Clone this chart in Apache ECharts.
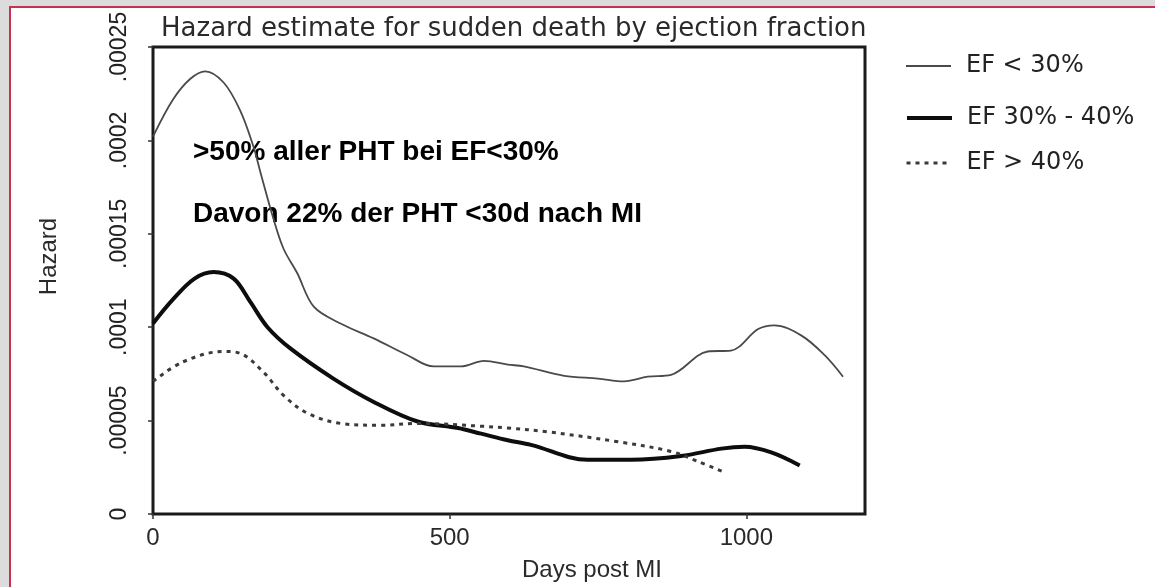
<!DOCTYPE html>
<html>
<head>
<meta charset="utf-8">
<script src="https://cdn.jsdelivr.net/npm/echarts@6/dist/echarts.min.js"></script>
<style>
  html, body { margin: 0; padding: 0; width: 1155px; height: 587px; overflow: hidden; background: #dcdcdc; }
  #frame { position: absolute; left: 9px; top: 6px; width: 1160px; height: 600px; border-left: 2px solid #c4344f; border-top: 2px solid #c4344f; background: #ffffff; }
  #chart { position: absolute; left: 0; top: 0; width: 1155px; height: 587px; }
</style>
</head>
<body>
<div id="frame"></div>
<div id="chart"></div>
<script>
// ---- data (days post MI, hazard) ----
const seriesNames = ['EF < 30%', 'EF 30% - 40%', 'EF > 40%'];

const daysLow = [0, 34, 63, 88, 119, 147, 169, 181, 203, 220, 243, 271, 316, 372, 429, 473, 519, 558, 598, 625, 693, 750, 794, 834, 873, 935, 974, 1020, 1047, 1093, 1132, 1163];
const hazardLow = [0.000202, 0.000222, 0.000233, 0.000237, 0.000231, 0.000216, 0.000197, 0.000183, 0.000158, 0.000142, 0.000129, 0.000111, 0.000102, 0.000094, 0.000085, 0.000079, 0.000079, 0.000082, 0.000080, 0.000079, 0.000074, 0.0000725, 0.000071, 0.0000735, 0.0000745, 0.000087, 0.0000875, 0.000099, 0.000101, 0.0000955, 0.000085, 0.0000735];

const daysMid = [0, 34, 70, 102, 136, 164, 193, 232, 304, 372, 446, 514, 553, 598, 637, 733, 806, 890, 958, 997, 1042, 1090];
const hazardMid = [0.000102, 0.000115, 0.000126, 0.0001295, 0.000126, 0.0001135, 0.000100, 0.0000885, 0.0000725, 0.000060, 0.0000495, 0.000046, 0.000043, 0.0000395, 0.000037, 0.000029, 0.000029, 0.000031, 0.000035, 0.000036, 0.000033, 0.000026];

const daysHigh = [0, 51, 119, 147, 186, 220, 260, 316, 383, 446, 553, 598, 665, 777, 873, 919, 966];
const hazardHigh = [0.000071, 0.0000815, 0.000087, 0.000086, 0.000076, 0.0000635, 0.000054, 0.0000485, 0.0000475, 0.0000485, 0.000047, 0.000046, 0.000044, 0.000039, 0.0000335, 0.000028, 0.000022];

const xTickValues = [0, 500, 1000];
const xTickLabels = ['0', '500', '1000'];
const yTickValues = [0, 0.00005, 0.0001, 0.00015, 0.0002, 0.00025];
const yTickLabels = ['0', '.00005', '.0001', '.00015', '.0002', '.00025'];

const titleText = 'Hazard estimate for sudden death by ejection fraction';
const note1 = '>50% aller PHT bei EF<30%';
const note2 = 'Davon 22% der PHT <30d nach MI';

function pairs(xs, ys) { return xs.map((x, i) => [x, ys[i]]); }

const chart = echarts.init(document.getElementById('chart'), null, { renderer: 'canvas' });

const legendText = { fontFamily: 'DejaVu Sans', fontSize: 24, color: '#222', padding: [0, 0, 0, 10] };
function legendAt(name, top, lw) {
  return { data: [name], orient: 'vertical', left: 900, top: top, itemWidth: 45, itemHeight: 20,
    itemStyle: { opacity: 0 }, lineStyle: { width: lw }, textStyle: legendText };
}

const option = {
  backgroundColor: 'transparent',
  animation: false,
  title: {
    text: titleText,
    left: 156, top: 11,
    textStyle: { fontFamily: 'DejaVu Sans', fontWeight: 'normal', fontSize: 26, color: '#2a2a2a' }
  },
  legend: [
    legendAt(seriesNames[0], 49, 2),
    legendAt(seriesNames[1], 101, 4),
    legendAt(seriesNames[2], 146, 3)
  ],
  grid: {
    left: 153, top: 47, right: 290, bottom: 71,
    show: true, borderColor: '#1a1a1a', borderWidth: 3, backgroundColor: 'transparent'
  },
  xAxis: {
    type: 'value', min: 0, max: 1200,
    name: 'Days post MI', nameLocation: 'middle', nameGap: 44,
    nameTextStyle: { fontFamily: 'Liberation Sans', fontSize: 24, color: '#2a2a2a', padding: [0, 0, 0, 166] },
    axisLine: { show: false },
    axisTick: { show: true, length: 5, customValues: xTickValues, lineStyle: { color: '#333', width: 1.5 } },
    splitLine: { show: false },
    axisLabel: {
      margin: 12, fontFamily: 'Liberation Sans', fontSize: 24, color: '#2a2a2a', customValues: xTickValues,
      formatter: function (v) { const i = xTickValues.indexOf(v); return i >= 0 ? xTickLabels[i] : ''; }
    }
  },
  yAxis: {
    type: 'value', min: 0, max: 0.00025, interval: 0.00005,
    name: 'Hazard', nameLocation: 'middle', nameGap: 92, nameRotate: 90,
    nameTextStyle: { fontFamily: 'Liberation Sans', fontSize: 24, color: '#2a2a2a', padding: [0, 0, 0, 48] },
    axisLine: { show: false },
    axisTick: { show: true, length: 5, lineStyle: { color: '#333', width: 1.5 } },
    splitLine: { show: false },
    axisLabel: {
      rotate: 90, margin: 22, fontFamily: 'Liberation Sans', fontSize: 23, color: '#222',
      formatter: function (v) {
        let best = 0;
        yTickValues.forEach((t, i) => { if (Math.abs(t - v) < Math.abs(yTickValues[best] - v)) best = i; });
        return yTickLabels[best];
      }
    }
  },
  graphic: [
    { type: 'text', left: 193, top: 138, style: { text: note1, fontFamily: 'Liberation Sans', fontWeight: 'bold', fontSize: 28, fill: '#000' } },
    { type: 'text', left: 193, top: 200, style: { text: note2, fontFamily: 'Liberation Sans', fontWeight: 'bold', fontSize: 28, fill: '#000' } }
  ],
  series: [
    { name: seriesNames[0], type: 'line', data: pairs(daysLow, hazardLow), smooth: 0.35, symbol: 'none',
      lineStyle: { color: '#4a4a4a', width: 1.8 }, itemStyle: { color: '#4a4a4a' } },
    { name: seriesNames[1], type: 'line', data: pairs(daysMid, hazardMid), smooth: 0.35, symbol: 'none',
      lineStyle: { color: '#0d0d0d', width: 4 }, itemStyle: { color: '#0d0d0d' } },
    { name: seriesNames[2], type: 'line', data: pairs(daysHigh, hazardHigh), smooth: 0.35, symbol: 'none',
      lineStyle: { color: '#3a3a3a', width: 3, type: [4, 5] }, itemStyle: { color: '#3a3a3a' } }
  ]
};

chart.setOption(option);
</script>
</body>
</html>
